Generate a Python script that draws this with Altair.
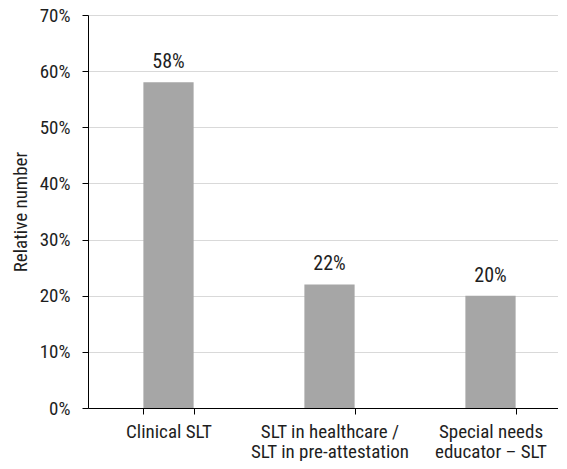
import altair as alt
import pandas as pd

categories = ["Clinical SLT", "SLT in healthcare /|SLT in pre-attestation", "Special needs|educator – SLT"]
values = [0.58, 0.22, 0.20]
value_labels = ["58%", "22%", "20%"]

df = pd.DataFrame({"cat": categories, "val": values, "lab": value_labels})

FONT = "Roboto Condensed"
TXT = "#1e1e1e"

x = alt.X("cat:N", sort=categories, title=None,
          scale=alt.Scale(paddingInner=0.688, paddingOuter=0.344, range=[0, 483]),
          axis=alt.Axis(labelExpr="split(datum.label, '|')", labelAngle=0,
                        tickBand="extent", tickSize=6, tickColor="black",
                        domainColor="black", labelPadding=8, labelLineHeight=20,
                        labelFontSize=19, labelFont=FONT, labelColor=TXT,
                        labelBaseline="top"))
y = alt.Y("val:Q", title="Relative number",
          scale=alt.Scale(domain=[0, 0.7]),
          axis=alt.Axis(format=".0%", values=[0, .1, .2, .3, .4, .5, .6, .7],
                        tickSize=6, tickColor="black", domainColor="black",
                        gridColor="#d9d9d9", labelPadding=12, labelFontSize=19,
                        labelFont=FONT, labelColor=TXT, titleFont=FONT,
                        titleFontSize=19, titleFontWeight="normal", titleColor=TXT,
                        titlePadding=9))

bars = alt.Chart(df).mark_bar(color="#a6a6a6").encode(x=x, y=y)
text = alt.Chart(df).mark_text(dy=-14, baseline="alphabetic", fontSize=20, font=FONT,
                               color=TXT).encode(
    x=alt.X("cat:N", sort=categories), y="val:Q", text="lab:N")

chart = (bars + text).properties(
    width=470, height=393,
    autosize=alt.AutoSizeParams(type="none"),
    padding={"left": 80, "top": 7, "right": 0, "bottom": 53},
).configure_view(stroke=None)

chart.save("out.html", embed_options={"renderer": "svg", "actions": False})
